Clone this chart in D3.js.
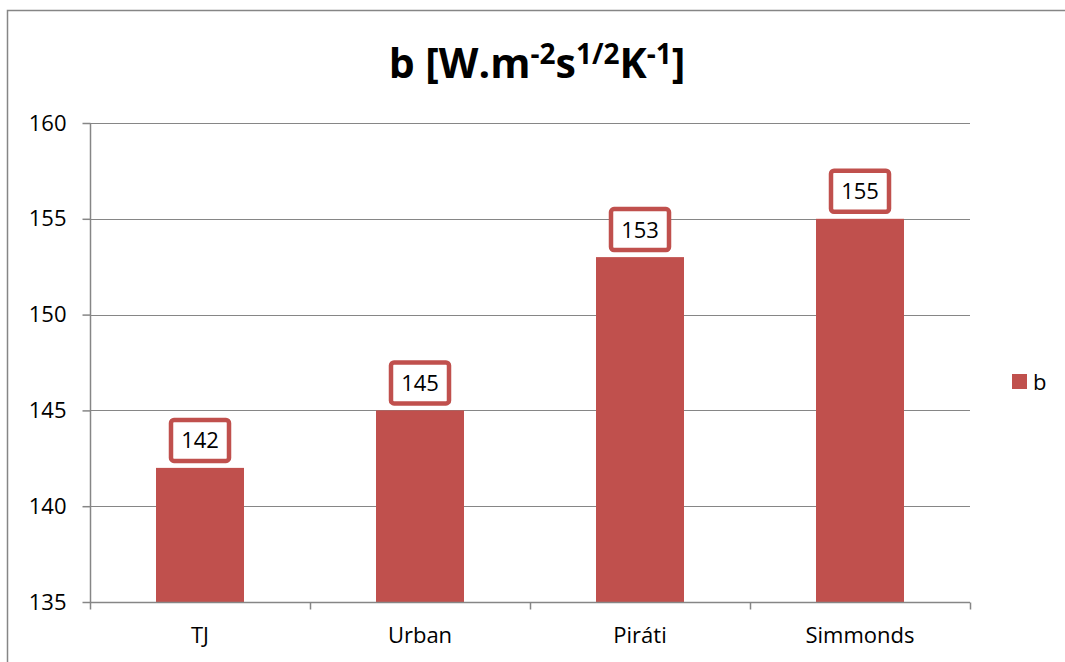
<!DOCTYPE html>
<html>
<head>
<meta charset="utf-8">
<script src="https://cdn.jsdelivr.net/npm/d3@7"></script>
<style>
  html, body { margin: 0; padding: 0; background: #fff; overflow: hidden; }
  svg { display: block; font-family: "Open Sans", "Liberation Sans", sans-serif; }
</style>
</head>
<body>
<svg id="chart" width="1065" height="662"></svg>
<script>
const categories = ["TJ", "Urban", "Piráti", "Simmonds"];
const values = [142, 145, 153, 155];
const yTicks = [135, 140, 145, 150, 155, 160];
const seriesName = "b";

const barColor = "#C0504D";
const gridColor = "#868686";
const fontStack = '"Open Sans", "Liberation Sans", sans-serif';

const svg = d3.select("#chart");
const plot = { left: 90, right: 970, top: 123, bottom: 602 };

// Outer chart frame (left and top edges visible)
svg.append("path")
  .attr("d", "M7.5,662V10.5H1065")
  .attr("fill", "none").attr("stroke", gridColor).attr("stroke-width", 1.5);

const x = d3.scaleBand().domain(categories).range([plot.left, plot.right]).paddingInner(0).paddingOuter(0);
const y = d3.scaleLinear().domain([135, 160]).range([plot.bottom, plot.top]);

// Horizontal gridlines
svg.append("g").selectAll("line").data(yTicks.slice(1)).join("line")
  .attr("x1", plot.left).attr("x2", plot.right)
  .attr("y1", d => Math.round(y(d)) + 0.5).attr("y2", d => Math.round(y(d)) + 0.5)
  .attr("stroke", gridColor).attr("stroke-width", 1.2);

// Y axis
const yAxis = svg.append("g").attr("transform", `translate(${plot.left + 0.5},0)`)
  .call(d3.axisLeft(y).tickValues(yTicks).tickSize(8).tickPadding(16).tickFormat(d3.format("d")));
yAxis.attr("font-family", fontStack);
yAxis.selectAll("path, line").attr("stroke", gridColor).attr("stroke-width", 1.5);
yAxis.select(".domain").attr("d", `M0,${plot.top}V${plot.bottom}`);
yAxis.selectAll("text").attr("font-size", 22).attr("fill", "#000");

// Bars
const barW = x.bandwidth() * 0.4;
svg.append("g").selectAll("rect").data(values).join("rect")
  .attr("x", (d, i) => x(categories[i]) + (x.bandwidth() - barW) / 2)
  .attr("y", d => y(d))
  .attr("width", barW)
  .attr("height", d => y(135) - y(d))
  .attr("fill", barColor);

// X axis
const xAxis = svg.append("g").attr("transform", `translate(0,${plot.bottom + 0.5})`)
  .call(d3.axisBottom(x).tickSize(0).tickPadding(25));
xAxis.attr("font-family", fontStack);
xAxis.select(".domain").attr("stroke", gridColor).attr("stroke-width", 1.5)
  .attr("d", `M${plot.left},0H${plot.right}`);
xAxis.selectAll("text").attr("font-size", 22).attr("fill", "#000");
// category boundary ticks
const bounds = categories.map(c => x(c)).concat([plot.right]);
xAxis.append("g").selectAll("line").data(bounds).join("line")
  .attr("x1", d => d + 0.5).attr("x2", d => d + 0.5)
  .attr("y1", 0).attr("y2", 7)
  .attr("stroke", gridColor).attr("stroke-width", 1.5);

// Value labels in boxed callouts
const labels = svg.append("g").selectAll("g").data(values).join("g")
  .attr("transform", (d, i) => `translate(${x(categories[i]) + x.bandwidth() / 2},${y(d) - 5})`);
labels.append("rect")
  .attr("x", -29).attr("y", -43).attr("width", 58).attr("height", 41)
  .attr("rx", 3).attr("ry", 3)
  .attr("fill", "#fff").attr("stroke", barColor).attr("stroke-width", 4.5);
labels.append("text")
  .attr("text-anchor", "middle").attr("y", -14.5)
  .attr("font-size", 22).attr("fill", "#000")
  .text(d => d);

// Title with superscripts
const title = svg.append("text")
  .attr("x", 537).attr("y", 78)
  .attr("text-anchor", "middle")
  .attr("font-weight", "bold").attr("fill", "#000");
const parts = [
  ["b [W.m", false], ["-2", true], ["s", false], ["1/2", true], ["K", false], ["-1", true], ["]", false]
];
parts.forEach(([t, sup], i) => {
  const prevSup = i > 0 && parts[i - 1][1];
  const ts = title.append("tspan").text(t);
  if (sup) ts.attr("font-size", 28).attr("dy", -14);
  else {
    ts.attr("font-size", 41);
    if (prevSup) ts.attr("dy", 14);
  }
});

// Legend
const legend = svg.append("g").attr("transform", "translate(1012,374)");
legend.append("rect").attr("width", 15).attr("height", 15).attr("fill", barColor);
legend.append("text").attr("x", 21).attr("y", 16).attr("font-size", 22).attr("fill", "#000").text(seriesName);
</script>
</body>
</html>
